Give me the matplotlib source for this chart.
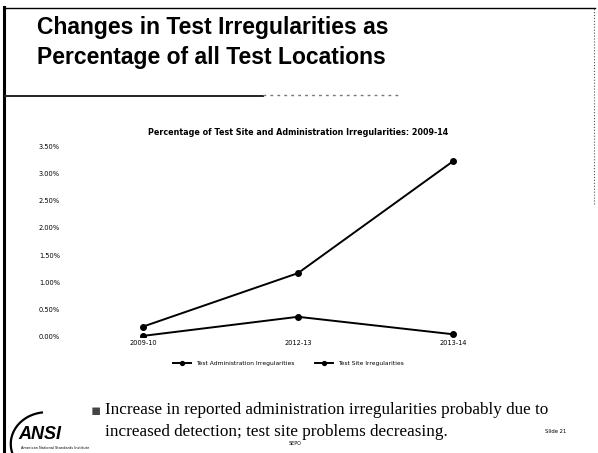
import matplotlib.pyplot as plt
from matplotlib.lines import Line2D
from matplotlib.patches import Arc
from matplotlib.ticker import PercentFormatter

# data
years = ['2009-10', '2012-13', '2013-14']
admin_irreg = [0.19, 1.17, 3.22]   # percent
site_irreg = [0.02, 0.37, 0.05]    # percent
y_ticks = [0.0, 0.5, 1.0, 1.5, 2.0, 2.5, 3.0, 3.5]

fig = plt.figure(figsize=(5.98, 4.53), dpi=100)
fig.patch.set_facecolor('white')

# slide frame
fig.add_artist(Line2D([0.006, 0.006], [0.0, 0.985], color='black', lw=2.2))
fig.add_artist(Line2D([0.006, 0.995], [0.982, 0.982], color='black', lw=1.0))
fig.add_artist(Line2D([0.993, 0.993], [0.55, 0.982], color='#555555', lw=0.8, ls=':'))

# slide heading
fig.text(0.062, 0.940, 'Changes in Test Irregularities as', fontsize=16.5,
         fontweight='bold', family='Liberation Sans', va='center')
fig.text(0.062, 0.874, 'Percentage of all Test Locations', fontsize=16.5,
         fontweight='bold', family='Liberation Sans', va='center')
fig.add_artist(Line2D([0.008, 0.44], [0.788, 0.788], color='#222222', lw=1.4))
fig.add_artist(Line2D([0.44, 0.67], [0.790, 0.790], color='#777777', lw=1.0, ls=(0, (2, 3))))

# chart
ax = fig.add_axes([0.1095, 0.2561, 0.7776, 0.4216])
x = range(len(years))
ax.plot(x, admin_irreg, color='black', lw=1.4, marker='o', ms=4,
        label='Test Administration Irregularities')
ax.plot(x, site_irreg, color='black', lw=1.4, marker='o', ms=4,
        label='Test Site Irregularities')
ax.set_xlim(-0.5, len(years) - 0.5)
ax.set_ylim(0, 3.5)
ax.set_yticks(y_ticks)
ax.yaxis.set_major_formatter(PercentFormatter(100, decimals=2))
ax.set_xticks(list(x))
ax.set_xticklabels(years)
ax.tick_params(length=0, labelsize=4.8, pad=2)
ax.tick_params(axis='y', pad=4)
for s in ax.spines.values():
    s.set_visible(False)
ax.set_title('Percentage of Test Site and Administration Irregularities: 2009-14',
             fontsize=5.8, fontweight='bold', pad=8)
ax.legend(loc='upper center', bbox_to_anchor=(0.48, -0.095), ncol=2, frameon=False,
          fontsize=4.3, handlelength=3, columnspacing=3.5, markerscale=0.7)

# bullet text
fig.text(0.152, 0.094, '\u25aa', fontsize=11, color='#444444', va='center')
fig.text(0.176, 0.094, 'Increase in reported administration irregularities probably due to',
         fontsize=12.3, family='Liberation Serif', va='center')
fig.text(0.176, 0.047, 'increased detection; test site problems decreasing.',
         fontsize=12.3, family='Liberation Serif', va='center')

# footer: logo and slide number
fig.add_artist(Arc((0.078, 0.02), 0.12, 0.14, theta1=95, theta2=200, color='black', lw=1.6))
fig.text(0.030, 0.040, 'ANSI', fontsize=13, fontweight='bold', style='italic',
         family='Liberation Sans', va='center')
fig.text(0.035, 0.010, 'American National Standards Institute', fontsize=2.5, va='center')
fig.text(0.493, 0.020, 'SEPO', fontsize=3.5, va='center', ha='center')
fig.text(0.912, 0.047, 'Slide 21', fontsize=3.8, va='center')

fig.savefig('out.png', dpi=100)
